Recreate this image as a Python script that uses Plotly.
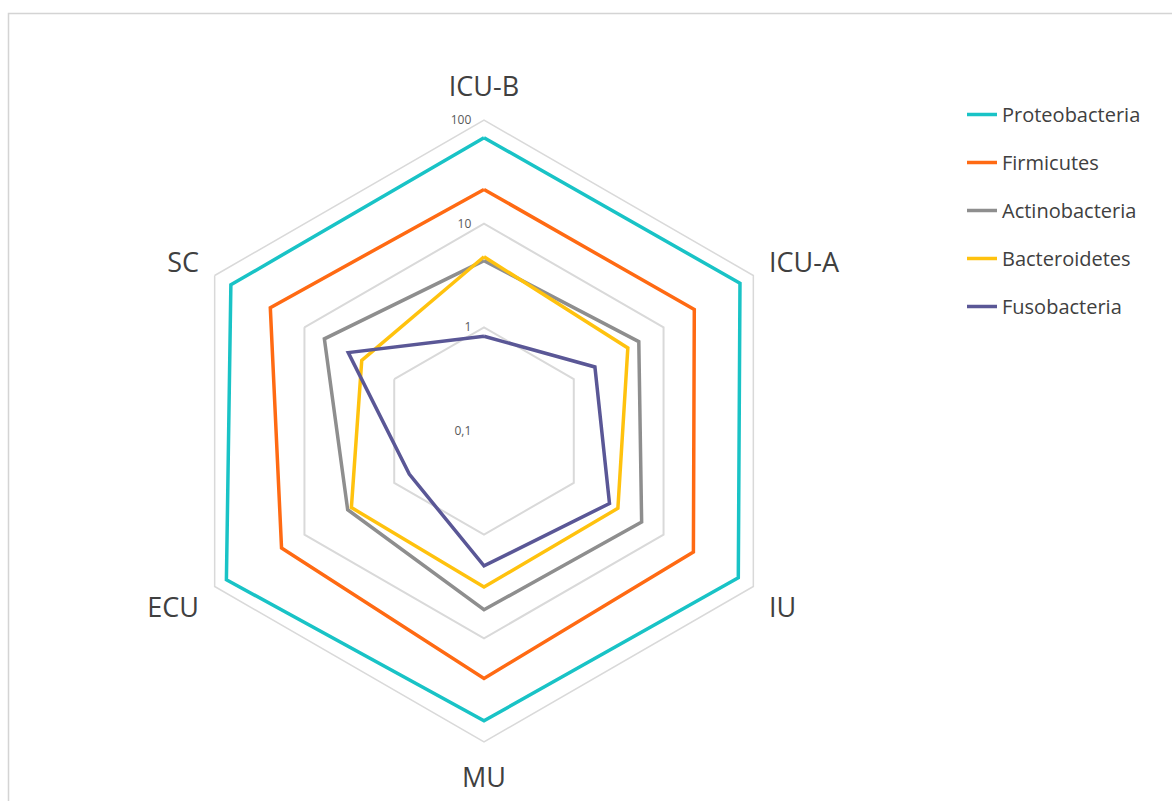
import plotly.graph_objects as go

# Sampling sites (clockwise from the top)
sites = ["ICU-B", "ICU-A", "IU", "MU", "ECU", "SC"]

# Relative abundance (%) per phylum at each site, log-scaled radial axis
proteobacteria = [67.5, 71, 68, 62.5, 74, 66]
firmicutes = [21.4, 22, 21.5, 24.4, 18, 24]
actinobacteria = [4.4, 5.3, 5.7, 5.3, 3.3, 6.0]
bacteroidetes = [4.8, 4.0, 3.1, 3.2, 3.0, 2.3]
fusobacteria = [0.82, 1.72, 2.5, 2.0, 0.68, 3.25]

series_names = ["Proteobacteria", "Firmicutes", "Actinobacteria", "Bacteroidetes", "Fusobacteria"]
series_values = [proteobacteria, firmicutes, actinobacteria, bacteroidetes, fusobacteria]
series_colors = ["#19C3C6", "#FF6A13", "#8E8E8E", "#FFC20E", "#5A5796"]

radial_tickvals = [0.1, 1, 10, 100]
radial_ticktext = ["0,1", "1", "10", "100"]

fig = go.Figure()
for name, vals, color in zip(series_names, series_values, series_colors):
    fig.add_trace(go.Scatterpolar(
        r=vals + vals[:1],
        theta=sites + sites[:1],
        mode="lines",
        name=name,
        legendgroup=name,
        line=dict(color=color, width=3.5),
    ))

W, H = 1172, 801
cx, cy, R = 484, 431, 311

fig.update_layout(
    width=W,
    height=H,
    margin=dict(l=0, r=0, t=0, b=0),
    paper_bgcolor="white",
    plot_bgcolor="white",
    font=dict(family="Open Sans, Lato, sans-serif", color="#404040"),
    polar=dict(
        domain=dict(x=[(cx - R) / W, (cx + R) / W],
                    y=[(H - cy - R) / H, (H - cy + R) / H]),
        gridshape="linear",
        bgcolor="white",
        radialaxis=dict(
            type="log",
            range=[-1, 2],
            angle=90,
            tickangle=90,
            side="counterclockwise",
            tickvals=radial_tickvals,
            ticktext=radial_ticktext,
            tickfont=dict(size=12, color="#595959"),
            showline=False,
            ticks="outside",
            ticklen=8,
            tickcolor="rgba(0,0,0,0)",
            gridcolor="#D9D9D9",
            gridwidth=1.5,
        ),
        angularaxis=dict(
            rotation=90,
            direction="clockwise",
            showgrid=False,
            showline=True,
            linecolor="#D9D9D9",
            linewidth=1.5,
            ticks="outside",
            ticklen=12,
            tickcolor="rgba(0,0,0,0)",
            tickfont=dict(size=27, color="#404040"),
        ),
    ),
    legend=dict(
        x=962 / W,
        y=(H - 95) / H,
        xanchor="left",
        yanchor="top",
        font=dict(size=20, color="#404040"),
        tracegroupgap=19,
        bgcolor="rgba(0,0,0,0)",
        itemwidth=30,
    ),
    shapes=[
        dict(type="rect", xref="paper", yref="paper",
             x0=8.5 / W, x1=1.05, y0=-0.05, y1=(H - 13.5) / H,
             line=dict(color="#D4D4D4", width=1.5), fillcolor="rgba(0,0,0,0)",
             layer="below"),
    ],
)

fig.write_html("out.html")
